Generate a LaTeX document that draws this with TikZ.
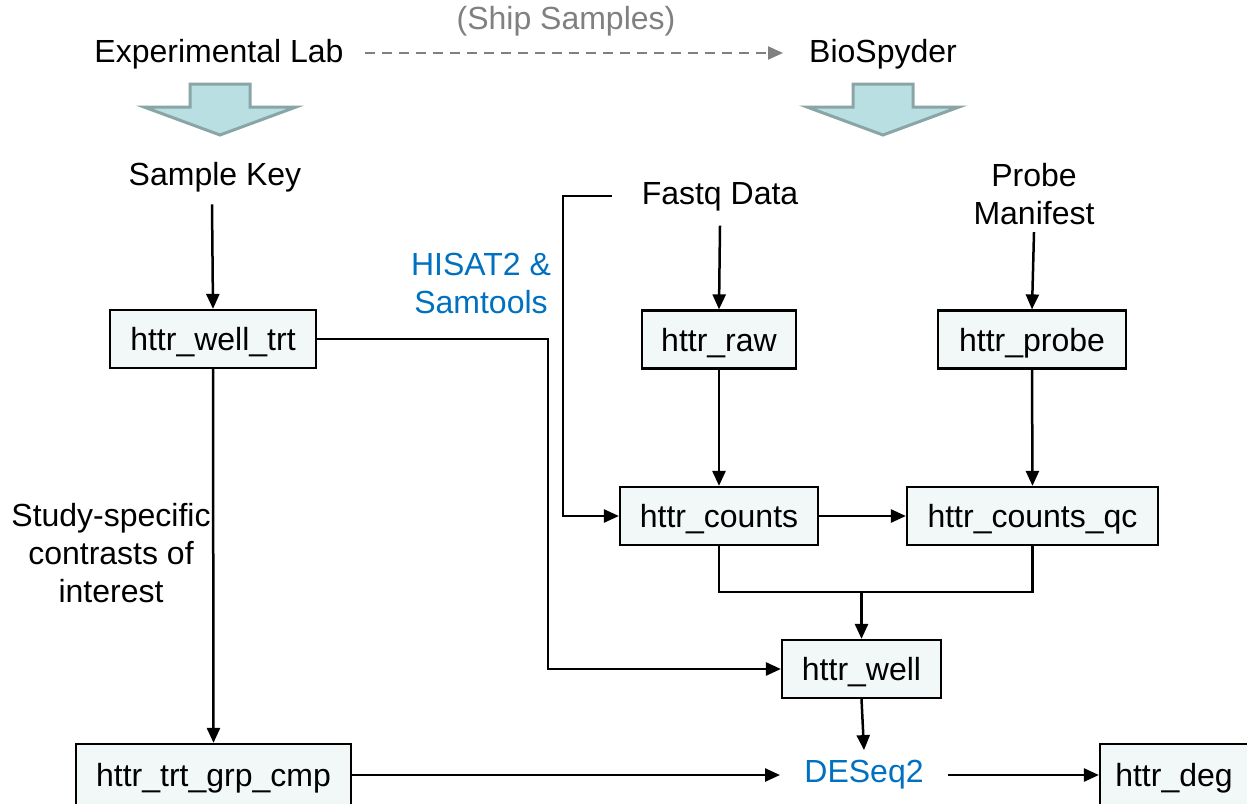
\documentclass[tikz,border=0pt]{standalone}
\usepackage{fontspec}
\setmainfont{Liberation Sans}
\usetikzlibrary{arrows.meta}
\definecolor{boxfill}{HTML}{F1F8F7}
\definecolor{blockfill}{HTML}{B9DFE3}
\definecolor{blockline}{HTML}{8AA5A6}
\definecolor{toolblue}{HTML}{0070C0}
\definecolor{shipgray}{HTML}{808080}
\tikzset{
  every node/.style={font=\fontsize{16}{19}\selectfont, inner sep=0pt},
  tbl/.style={draw=black, line width=1.1pt, fill=boxfill, minimum height=29pt, text depth=0pt},
  lbl/.style={align=center, text=black},
  tool/.style={align=center, text=toolblue},
  conn/.style={line width=1.25pt, draw=black},
  arr/.style={conn, -{Triangle[length=7.5pt,width=6.5pt]}},
  blockarrow/.style={draw=blockline, fill=blockfill, line width=1.5pt, line join=miter},
}
\begin{document}
\begin{tikzpicture}[x=0.5pt,y=-0.5pt]
\useasboundingbox (0,0) rectangle (1247,803);
% top labels
\node[lbl] (lab) at (219,54) {Experimental Lab};
\node[lbl] (bio) at (883,54) {BioSpyder};
\node[text=shipgray] (ship) at (566,21) {(Ship Samples)};
\coordinate (shipA) at (365,53);
\coordinate (shipB) at (783,53);
\draw[line width=1.1pt, draw=shipgray, dash pattern=on 5pt off 3.5pt, -{Triangle[length=7.5pt,width=6.5pt]}] (shipA) -- (shipB);
% block arrows
\draw[blockarrow] (190,84) -- (250,84) -- (250,107) -- (296,107) -- (220,135) -- (144,107) -- (190,107) -- cycle;
\draw[blockarrow] (853,84) -- (913,84) -- (913,107) -- (959,107) -- (883,135) -- (807,107) -- (853,107) -- cycle;
% labels
\node[lbl] (key) at (215,177) {Sample Key};
\node[lbl] (fastq) at (720,197) {Fastq Data};
\node[lbl] (probe) at (1034,194) {Probe\\Manifest};
\node[tool] (hisat) at (481,283) {HISAT2 \&\\Samtools};
\node[lbl] (study) at (111,553) {Study-specific\\contrasts of\\interest};
\node[tool] (deseq) at (864,775) {DESeq2};
% boxes
\node[tbl, minimum width=103pt] (welltrt) at (213,339) {httr\_well\_trt};
\node[tbl, minimum width=77pt] (raw) at (719,339.5) {httr\_raw};
\node[tbl, minimum width=94pt] (hprobe) at (1032,339.5) {httr\_probe};
\node[tbl, minimum width=99pt] (counts) at (719,516) {httr\_counts};
\node[tbl, minimum width=125.5pt] (countsqc) at (1032.5,516) {httr\_counts\_qc};
\node[tbl, minimum width=79.5pt] (well) at (861.5,669) {httr\_well};
\node[tbl, minimum width=137.5pt, minimum height=31pt] (cmp) at (213.5,775) {httr\_trt\_grp\_cmp};
\node[tbl, minimum width=74pt, minimum height=31pt] (deg) at (1174,775) {httr\_deg};
% connectors
\draw[arr] (key.south) ++(-3,12) coordinate (keyS) -- (welltrt.north);
\draw[arr] (fastq.south) ++(0,14) coordinate (fastqS) -- (raw.north);
\draw[arr] (probe.south) ++(0,7) coordinate (probeS) -- (hprobe.north);
\coordinate (fastqL) at (612,196);
\draw[arr] (fastqL) -- (563,196) |- (counts.west);
\draw[arr] (raw.south) -- (counts.north);
\draw[arr] (hprobe.south) -- (countsqc.north);
\draw[arr] (counts.east) -- (countsqc.west);
\coordinate (join) at (861.5,592);
\draw[conn] (counts.south) |- (join) -| (countsqc.south);
\draw[arr] (join) -- (well.north);
\draw[arr] (welltrt.east) -- (548,339) |- (well.west);
\draw[arr] (welltrt.south) -- (cmp.north);
\draw[arr] (well.south) -- ([yshift=5pt]deseq.north);
\draw[arr] (cmp.east) -- ([xshift=-12pt]deseq.west);
\draw[arr] ([xshift=12pt]deseq.east) -- (deg.west);
\end{tikzpicture}
\end{document}
